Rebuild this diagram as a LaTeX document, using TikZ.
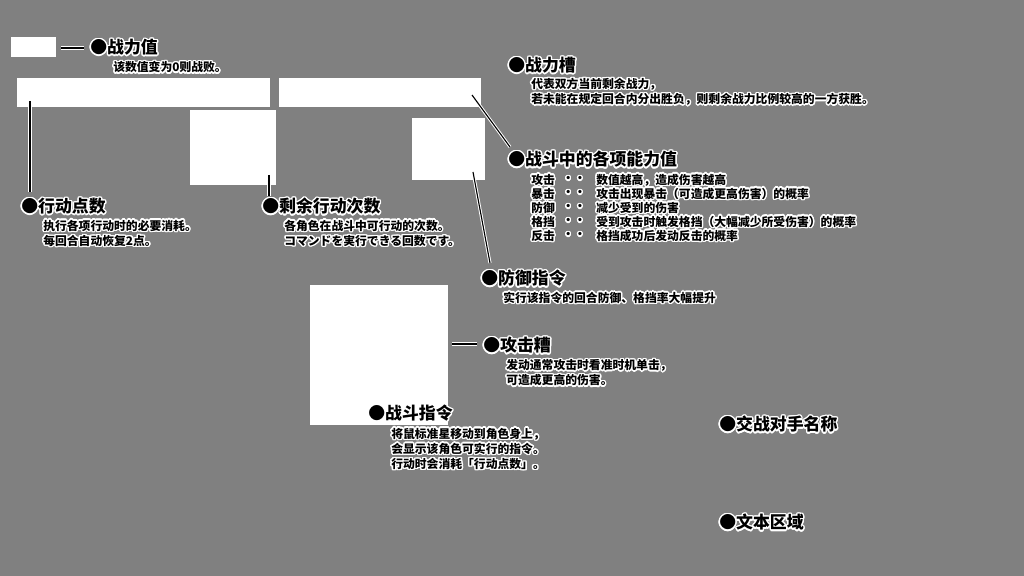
\documentclass[tikz,border=0pt]{standalone}
\usepackage{fontspec}
\setmainfont{Noto Sans CJK SC}
\usepackage{contour}
\contourlength{1pt}
\usetikzlibrary{positioning}
\definecolor{screen}{RGB}{128,128,128}
\newcommand{\halo}[1]{\contour{white}{#1}}
\tikzset{panel/.style={fill=white,draw=none},
	 head/.style={anchor=west,inner sep=0pt,font=\fontsize{12}{14}\selectfont\bfseries},
	 body/.style={anchor=west,inner sep=0pt,align=left,font=\fontsize{8.4}{10.8}\selectfont\bfseries},
	 lead/.style={preaction={draw=white,line width=2.2pt},draw=black,line width=0.8pt}
	 }

\begin{document}
\begin{tikzpicture}[x=0.025cm,y=-0.025cm] % battle screen guide
	\fill[screen] (0,0) rectangle (1024,576);
	\useasboundingbox (0,0) rectangle (1024,576);
	% screen parts
	\fill[panel] (11,37) rectangle (56,57);
	\fill[panel] (17,78) rectangle (270,107);
	\fill[panel] (279,78) rectangle (481,107);
	\fill[panel] (190,110) rectangle (276,185);
	\fill[panel] (412,118) rectangle (485,180);
	\fill[panel] (310,285) rectangle (448,425);
	% labels
	\node[head] (hp) at (90,48) {\halo{●战力值}};
	\node[body] (hpT) at (113,68) {\halo{该数值变为0则战败。}};
	\node[head] (gauge) at (508,66) {\halo{●战力槽}};
	\node[body] (gaugeT) at (531,92.5) {\halo{代表双方当前剩余战力，}\\\halo{若未能在规定回合内分出胜负，则剩余战力比例较高的一方获胜。}};
	\node[head] (stat) at (508,160) {\halo{●战斗中的各项能力值}};
	\foreach \lab/\desc [count=\i] in {攻击/数值越高，造成伤害越高, 暴击/攻击出现暴击（可造成更高伤害）的概率, 防御/减少受到的伤害, 格挡/受到攻击时触发格挡（大幅减少所受伤害）的概率, 反击/格挡成功后发动反击的概率}
	{
		\node[body] (lab\i) at (531,{180.5+(\i-1)*14}) {\halo{\lab}};
		\node[body] (dot\i) at (562,{180.5+(\i-1)*14}) {\halo{・・}};
		\node[body] (desc\i) at (596,{180.5+(\i-1)*14}) {\halo{\desc}};
	}
	\node[head] (ap) at (21,207) {\halo{●行动点数}};
	\node[body] (apT) at (43,234) {\halo{执行各项行动时的必要消耗。}\\\halo{每回合自动恢复2点。}};
	\node[head] (turn) at (262,207) {\halo{●剩余行动次数}};
	\node[body] (turnT) at (284,234) {\halo{各角色在战斗中可行动的次数。}\\\halo{コマンドを実行できる回数です。}};
	\node[head] (guard) at (481,279) {\halo{●防御指令}};
	\node[body] (guardT) at (503,298.5) {\halo{实行该指令的回合防御、格挡率大幅提升}};
	\node[head] (atk) at (483,346) {\halo{●攻击糟}};
	\node[body] (atkT) at (506,373.5) {\halo{发动通常攻击时看准时机单击，}\\\halo{可造成更高的伤害。}};
	\node[head] (cmd) at (368,414) {\halo{●战斗指令}};
	\node[body] (cmdT) at (391,449.5) {\halo{将鼠标准星移动到角色身上，}\\\halo{会显示该角色可实行的指令。}\\\halo{行动时会消耗「行动点数」。}};
	\node[head] (foe) at (719,425) {\halo{●交战对手名称}};
	\node[head] (msg) at (719,523) {\halo{●文本区域}};
	% leader lines
	\coordinate (hpA) at (61,48);   \coordinate (hpB) at (84,48);
	\coordinate (apA) at (30,101);  \coordinate (apB) at (30,192);
	\coordinate (turnA) at (269,175); \coordinate (turnB) at (269,196);
	\coordinate (gaugeA) at (472,95); \coordinate (gaugeB) at (510,147);
	\coordinate (guardA) at (473,172); \coordinate (guardB) at (490,263);
	\coordinate (atkA) at (452,344); \coordinate (atkB) at (477,344);
	\draw[lead] (hpA) -- (hpB);
	\draw[lead] (apA) -- (apB);
	\draw[lead] (turnA) -- (turnB);
	\draw[lead] (gaugeA) -- (gaugeB);
	\draw[lead] (guardA) -- (guardB);
	\draw[lead] (atkA) -- (atkB);
\end{tikzpicture}
\end{document}
